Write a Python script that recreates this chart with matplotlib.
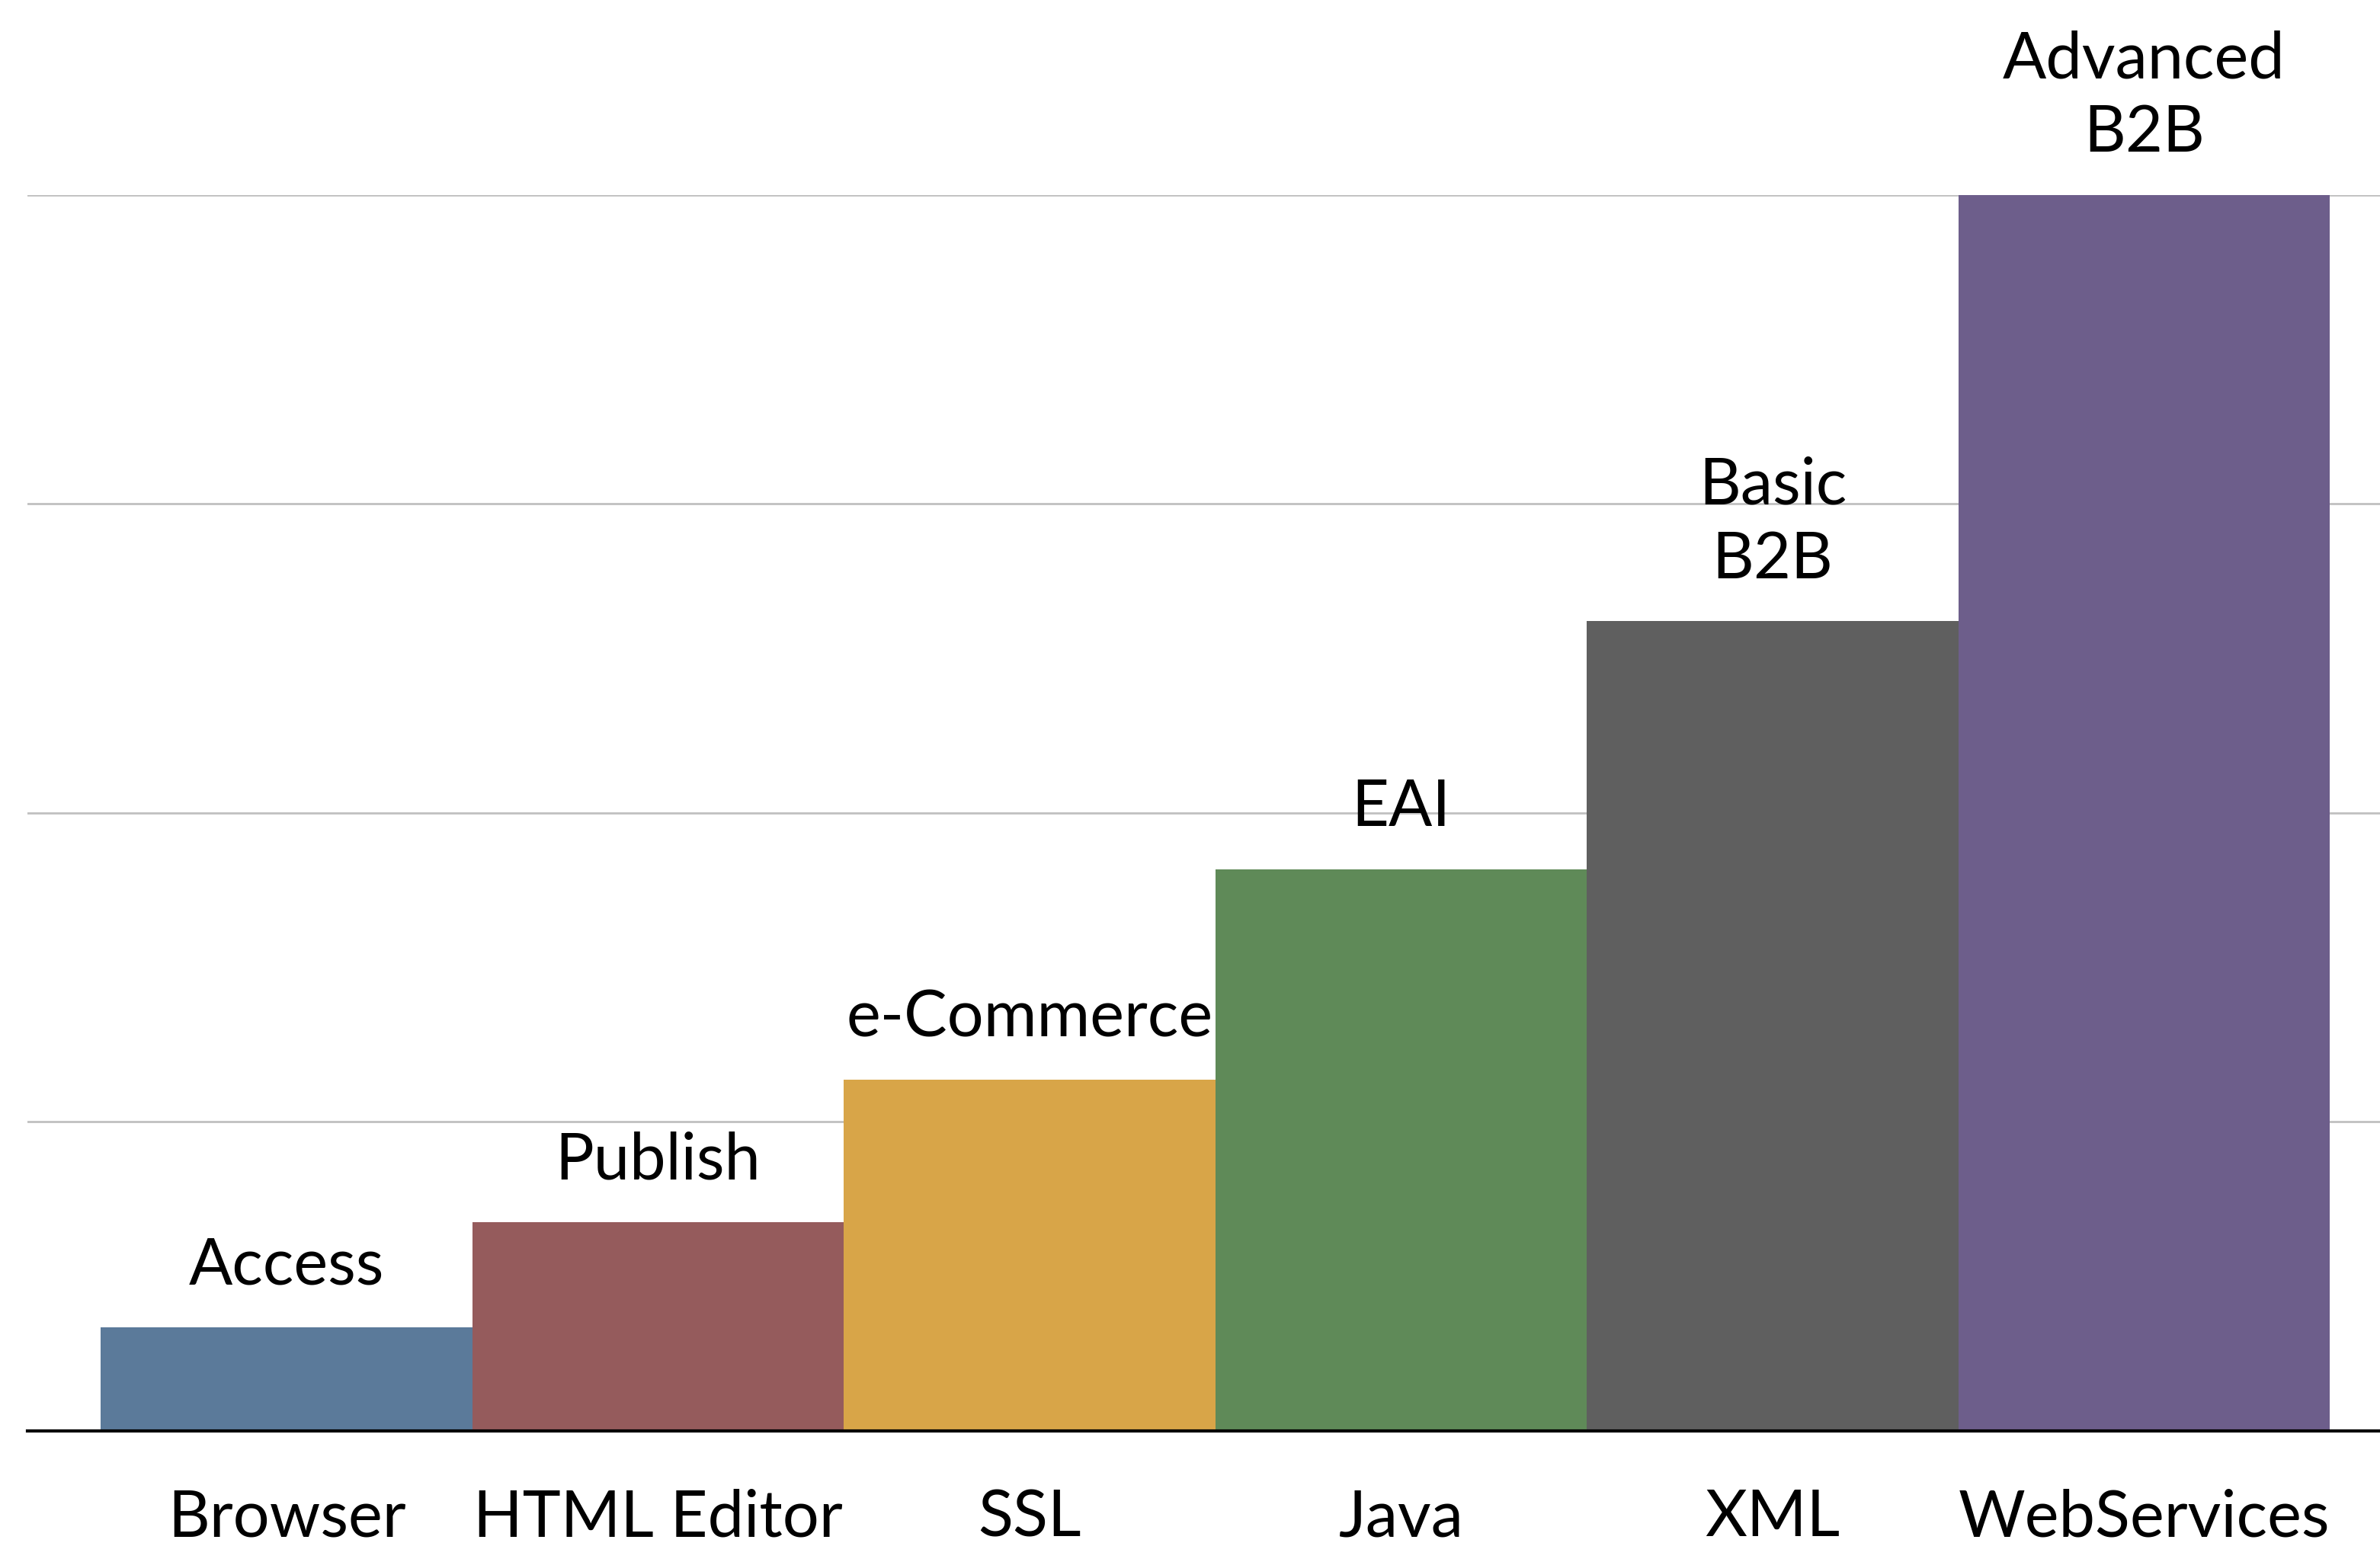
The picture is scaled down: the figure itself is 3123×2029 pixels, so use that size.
import numpy as np
import matplotlib.pyplot as plt

technologies = ["Browser", "HTML Editor", "SSL", "Java", "XML", "WebServices"]
stages = ["Access", "Publish", "e-Commerce", "EAI", "Basic\nB2B", "Advanced\nB2B"]
values = [0.335, 0.676, 1.137, 1.818, 2.62, 4.0]
colors = ["#5b7a9a", "#955b5c", "#d8a548", "#5f8a58", "#5f5f5f", "#6d5e8b"]

plt.rcParams['font.family'] = ['Lato', 'DejaVu Sans']

fig = plt.figure(figsize=(31.23, 20.29), dpi=100)
ax = fig.add_axes([0.0115, 0.0744, 0.9885, 0.7996])

x = np.arange(len(values))
ax.bar(x, values, width=1.0, color=colors, edgecolor='none', zorder=3)

for xi, v, s in zip(x, values, stages):
    ax.annotate(s, (xi, v), xytext=(0, 30), textcoords='offset points',
                ha='center', va='bottom', fontsize=61, linespacing=1.3,
                color='black', zorder=5)

ax.set_xlim(-0.698, 5.635)
ax.set_ylim(0, 4)
ax.set_yticks([1, 2, 3, 4])
ax.yaxis.grid(True, color='#c0c0c0', linewidth=2.0, zorder=0)
ax.set_axisbelow(True)
ax.tick_params(axis='y', left=False, labelleft=False)
ax.set_xticks(x)
ax.set_xticklabels(technologies, fontsize=61)
ax.tick_params(axis='x', length=0, pad=54)

for side in ['top', 'right', 'left']:
    ax.spines[side].set_visible(False)
ax.spines['bottom'].set_linewidth(3)
ax.spines['bottom'].set_color('black')
ax.spines['bottom'].set_zorder(6)

fig.savefig('out.png', dpi=100, facecolor='white')
